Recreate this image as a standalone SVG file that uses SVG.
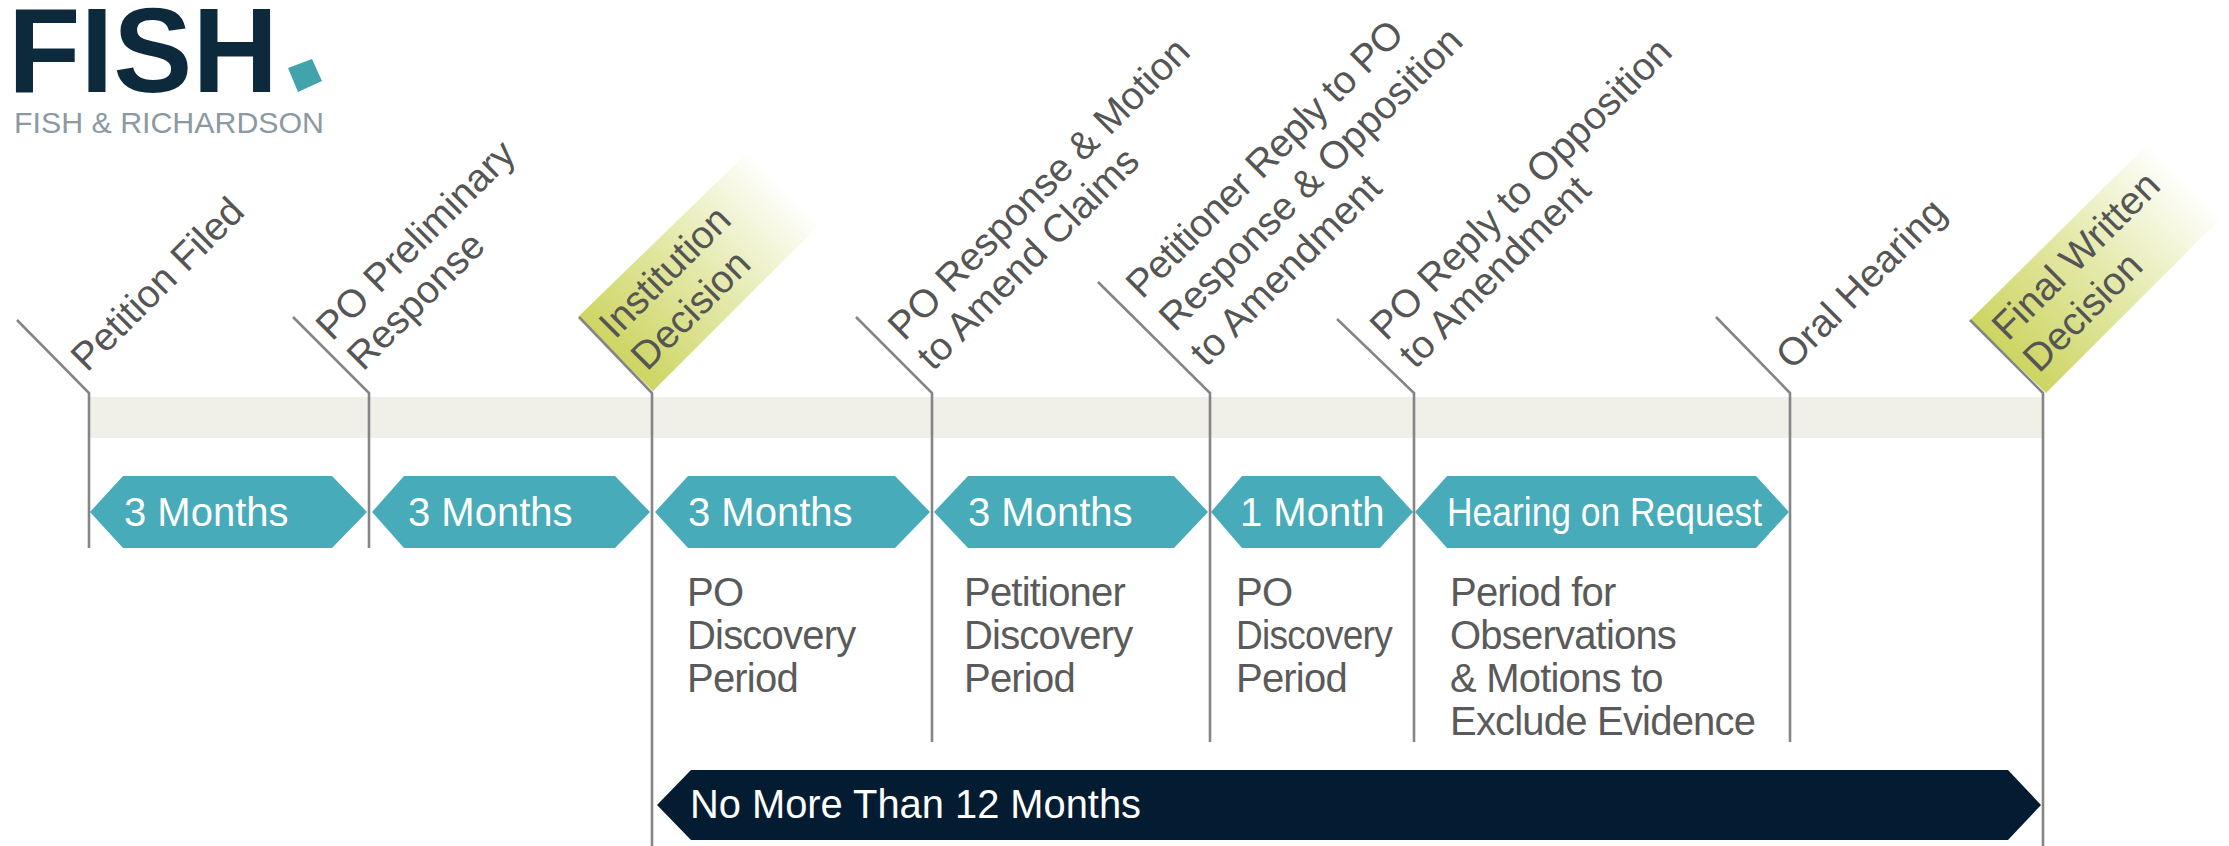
<svg xmlns="http://www.w3.org/2000/svg" width="2229" height="846" viewBox="0 0 2229 846">
<style>
text{font-family:"Liberation Sans",Arial,sans-serif}
.m{font-size:39px;fill:#555}
.t{letter-spacing:-.6px}
.b{font-size:40px;fill:#5a5a5a;letter-spacing:-.8px}
.h{font-size:40px;fill:#fff}
.hx{fill:#47abba}
.ln{fill:none;stroke:#858585;stroke-width:2.6}
</style>
<defs>
<linearGradient id="g" x1=".15" y1=".85" x2=".85" y2=".15">
<stop offset="0" stop-color="#cdd562"/><stop offset=".5" stop-color="#e4e9aa"/><stop offset="1" stop-color="#fff"/>
</linearGradient>
</defs>
<rect width="2229" height="846" fill="#fff"/>
<g id="logo">
<text x="8" y="92" font-size="120" font-weight="700" fill="#0d2a3d" textLength="270" lengthAdjust="spacingAndGlyphs">FISH</text>
<polygon points="288,68 312,59 322,81 298,92" fill="#42a3ad"/>
<text x="14" y="133" font-size="30" fill="#8b99a3" textLength="310" lengthAdjust="spacingAndGlyphs">FISH &amp; RICHARDSON</text>
</g>
<rect id="band" x="89" y="397" width="1954" height="41" fill="#f0f0e9"/>
<polygon id="institution-bg" points="578,317 653,391 821,223 752,148" fill="url(#g)"/>
<polygon id="final-bg" points="1970,320 2046,393 2226,213 2150,142" fill="url(#g)"/>
<g id="connectors">
<polyline class="ln" points="17,320 89,393 89,548"/>
<polyline class="ln" points="293,317 369,393 369,548"/>
<polyline class="ln" points="579,317 652,393 652,846"/>
<polyline class="ln" points="856,317 932,393 932,742"/>
<polyline class="ln" points="1098,282 1210,393 1210,742"/>
<polyline class="ln" points="1337,319 1414,393 1414,742"/>
<polyline class="ln" points="1716,317 1790,393 1790,742"/>
<polyline class="ln" points="1970,320 2043,393 2043,846"/>
</g>
<g id="label-petition-filed"><text class="m" transform="translate(87,373) rotate(-45)">Petition Filed</text></g>
<g id="label-po-preliminary"><text class="m" transform="translate(332,342) rotate(-45)">PO Preliminary</text><text class="m" transform="translate(363,372) rotate(-45)">Response</text></g>
<g id="label-institution"><text class="m" transform="translate(615,340) rotate(-45)">Institution</text><text class="m" transform="translate(647,372) rotate(-45)">Decision</text></g>
<g id="label-po-response"><text class="m" transform="translate(904,342) rotate(-45)">PO Response &amp; Motion</text><text class="m" transform="translate(933,372) rotate(-45)">to Amend Claims</text></g>
<g id="label-petitioner-reply"><text class="m t" transform="translate(1142,300) rotate(-45)">Petitioner Reply to PO</text><text class="m" transform="translate(1175,333) rotate(-45)">Response &amp; Opposition</text><text class="m" transform="translate(1206,368) rotate(-45)">to Amendment</text></g>
<g id="label-po-reply"><text class="m" transform="translate(1386,342) rotate(-45)">PO Reply to Opposition</text><text class="m" transform="translate(1415,370) rotate(-45)">to Amendment</text></g>
<g id="label-oral-hearing"><text class="m" transform="translate(1792,371) rotate(-45)">Oral Hearing</text></g>
<g id="label-final"><text class="m" transform="translate(2008,342) rotate(-45)">Final Written</text><text class="m" transform="translate(2039,374) rotate(-45)">Decision</text></g>
<g id="period-1"><polygon class="hx" points="90,512 123,476 332,476 367,512 332,548 123,548"/><text class="h" x="124" y="526">3 Months</text></g>
<g id="period-2"><polygon class="hx" points="372,512 404,476 615,476 650,512 615,548 404,548"/><text class="h" x="408" y="526">3 Months</text></g>
<g id="period-3"><polygon class="hx" points="655,512 688,476 895,476 930,512 895,548 688,548"/><text class="h" x="688" y="526">3 Months</text>
<text class="b" x="687" y="606">PO</text><text class="b" x="687" y="649">Discovery</text><text class="b" x="687" y="692">Period</text></g>
<g id="period-4"><polygon class="hx" points="934,512 968,476 1174,476 1208,512 1174,548 968,548"/><text class="h" x="968" y="526">3 Months</text>
<text class="b" x="964" y="606">Petitioner</text><text class="b" x="964" y="649">Discovery</text><text class="b" x="964" y="692">Period</text></g>
<g id="period-5"><polygon class="hx" points="1211,512 1242,476 1380,476 1413,512 1380,548 1242,548"/><text class="h" x="1240" y="526">1 Month</text>
<text class="b" x="1236" y="606">PO</text><text class="b" x="1236" y="649" textLength="156" lengthAdjust="spacingAndGlyphs">Discovery</text><text class="b" x="1236" y="692">Period</text></g>
<g id="period-6"><polygon class="hx" points="1415,512 1447,476 1756,476 1789,512 1756,548 1447,548"/><text class="h" x="1447" y="526" textLength="315" lengthAdjust="spacingAndGlyphs">Hearing on Request</text>
<text class="b" x="1450" y="606">Period for</text><text class="b" x="1450" y="649">Observations</text><text class="b" x="1450" y="692">&amp; Motions to</text><text class="b" x="1450" y="735">Exclude Evidence</text></g>
<g id="twelve-months"><polygon points="657,805 691,770 2008,770 2041,805 2008,840 691,840" fill="#041c32"/><text class="h" x="690" y="818" textLength="451" lengthAdjust="spacingAndGlyphs">No More Than 12 Months</text></g>
</svg>
